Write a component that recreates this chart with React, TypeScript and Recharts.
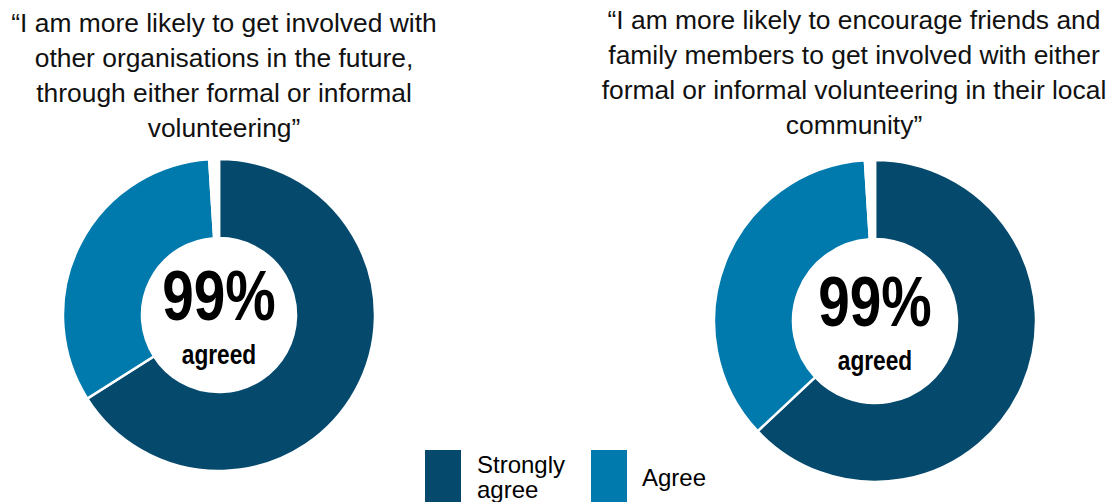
import { Cell, Label, Legend, Pie, PieChart } from "recharts";

const categories = ["Strongly agree", "Agree", "Other"];
const futureInvolvement = [66, 33, 1];
const encourageOthers = [63, 36, 1];
const sliceColors = ["#05496d", "#0079ac", "#ffffff"];
const legendLabels = [["Strongly", "agree"], ["Agree"]];
const centerValue = "99%";
const centerCaption = "agreed";

const leftTitle = [
  "\u201cI am more likely to get involved with",
  "other organisations in the future,",
  "through either formal or informal",
  "volunteering\u201d",
];
const rightTitle = [
  "\u201cI am more likely to encourage friends and",
  "family members to get involved with either",
  "formal or informal volunteering in their local",
  "community\u201d",
];

const textFont = '"Liberation Sans", Arial, sans-serif';
// no narrow face installed, so the bold centre text is squeezed horizontally
const narrowFont = '"Liberation Sans Narrow", "Arial Narrow", "Liberation Sans", sans-serif';
const narrowScale = 0.81;

const leftDonut = { cx: 219, cy: 315, inner: 77, outer: 156 };
const rightDonut = { cx: 875, cy: 321, inner: 82, outer: 161 };

function toRows(values: number[]) {
  return values.map((value, index) => ({ name: categories[index], value }));
}

function CenterLabel({ centerX, centerY }: { centerX: number; centerY: number }) {
  return (
    <g transform={`translate(${centerX} 0) scale(${narrowScale} 1) translate(${-centerX} 0)`}>
      <text
        x={centerX}
        y={centerY + 5}
        textAnchor="middle"
        fontFamily={narrowFont}
        fontWeight={700}
        fontSize={70}
        fill="#000"
      >
        {centerValue}
      </text>
      <text
        x={centerX}
        y={centerY + 49}
        textAnchor="middle"
        fontFamily={narrowFont}
        fontWeight={700}
        fontSize={28}
        fill="#000"
      >
        {centerCaption}
      </text>
    </g>
  );
}

function DonutLegend() {
  return (
    <div style={{ position: "relative", width: 300, height: 52, fontFamily: textFont, fontSize: 24, color: "#000" }}>
      {legendLabels.map((lines, index) => {
        const left = index * 166;
        return (
          <div key={lines.join(" ")}>
            <i
              style={{
                position: "absolute",
                left,
                top: 0,
                width: 36,
                height: 52,
                background: sliceColors[index],
              }}
            />
            <div
              style={{
                position: "absolute",
                left: left + (index === 0 ? 52 : 51),
                top: lines.length > 1 ? 2 : 15,
                lineHeight: "25px",
                whiteSpace: "nowrap",
              }}
            >
              {lines.map((line) => (
                <div key={line}>{line}</div>
              ))}
            </div>
          </div>
        );
      })}
    </div>
  );
}

function Title({ lines, center, top }: { lines: string[]; center: number; top: number }) {
  return (
    <div
      style={{
        position: "absolute",
        left: center - 260,
        top,
        width: 520,
        textAlign: "center",
        fontFamily: textFont,
        fontSize: 26.4,
        lineHeight: "35px",
        color: "#111",
      }}
    >
      {lines.map((line) => (
        <div key={line} style={{ whiteSpace: "nowrap" }}>
          {line}
        </div>
      ))}
    </div>
  );
}

export default function App() {
  const donuts = [
    { values: futureInvolvement, geometry: leftDonut },
    { values: encourageOthers, geometry: rightDonut },
  ];
  return (
    <div
      style={{
        position: "absolute",
        left: 0,
        top: 0,
        width: 1113,
        height: 502,
        overflow: "hidden",
        background: "#fff",
      }}
    >
      <PieChart width={1113} height={502} margin={{ top: 0, right: 0, bottom: 0, left: 0 }}>
        {donuts.map(({ values, geometry }, chartIndex) => (
          <Pie
            key={chartIndex}
            data={toRows(values)}
            dataKey="value"
            nameKey="name"
            cx={geometry.cx}
            cy={geometry.cy}
            innerRadius={geometry.inner}
            outerRadius={geometry.outer}
            startAngle={90}
            endAngle={-270}
            stroke="#ffffff"
            strokeWidth={2.5}
            isAnimationActive={false}
          >
            {values.map((_, index) => (
              <Cell key={categories[index]} fill={sliceColors[index]} />
            ))}
            <Label
              position="center"
              content={<CenterLabel centerX={geometry.cx} centerY={geometry.cy} />}
            />
          </Pie>
        ))}
        <Legend
          content={<DonutLegend />}
          wrapperStyle={{ position: "absolute", left: 425, top: 450, width: 300, height: 52, overflow: "hidden" }}
        />
      </PieChart>
      <Title lines={leftTitle} center={224} top={6} />
      <Title lines={rightTitle} center={854} top={3} />
    </div>
  );
}
